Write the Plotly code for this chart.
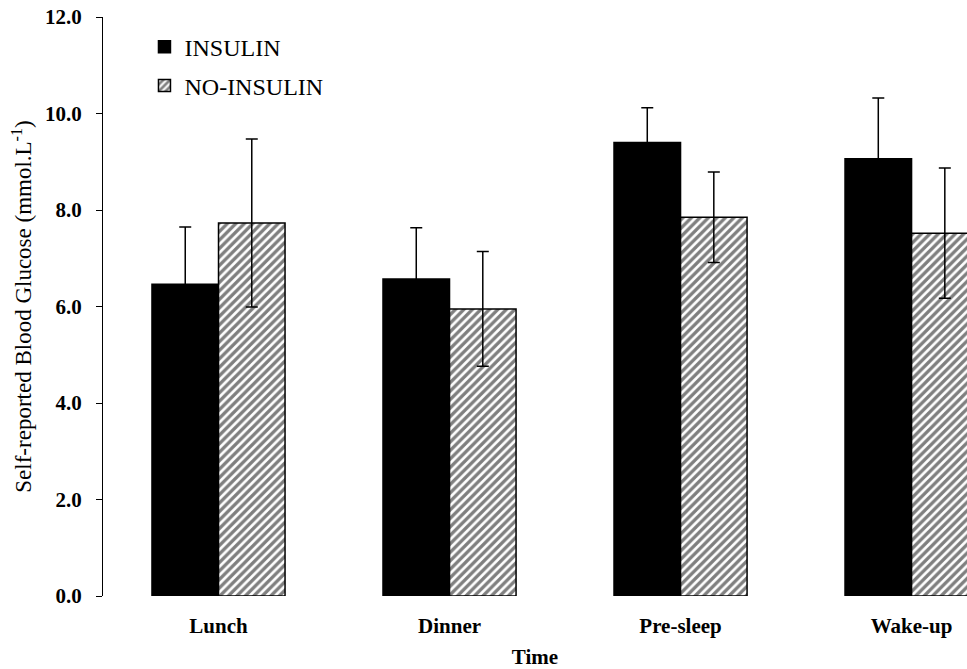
import plotly.graph_objects as go

# Self-reported blood glucose by time of day (mean ± SD)
times = ["Lunch", "Dinner", "Pre-sleep", "Wake-up"]
insulin_mean = [6.46, 6.57, 9.40, 9.06]
insulin_sd = [1.19, 1.06, 0.72, 1.26]
no_insulin_mean = [7.73, 5.95, 7.85, 7.52]
no_insulin_sd = [1.74, 1.19, 0.94, 1.35]
y_ticks = [0, 2, 4, 6, 8, 10, 12]

FONT = "Liberation Serif, Times New Roman, serif"

fig = go.Figure()

fig.add_trace(go.Bar(
    name="INSULIN",
    x=times,
    y=insulin_mean,
    marker=dict(color="black", line=dict(color="black", width=1.5)),
    error_y=dict(type="data", array=insulin_sd, visible=True,
                 color="black", thickness=1.5, width=6),
    legend="legend",
    showlegend=True,
))

fig.add_trace(go.Bar(
    name="NO-INSULIN",
    x=times,
    y=no_insulin_mean,
    marker=dict(
        color="white",
        line=dict(color="black", width=1.5),
        pattern=dict(shape="/", fgcolor="black", bgcolor="white",
                     size=6, solidity=0.55),
    ),
    error_y=dict(type="data", array=no_insulin_sd, visible=True,
                 color="black", thickness=1.5, width=6),
    legend="legend2",
    showlegend=True,
))

fig.update_layout(
    width=967,
    height=669,
    margin=dict(l=103, r=0, t=17, b=73),
    paper_bgcolor="white",
    plot_bgcolor="white",
    barmode="group",
    bargap=0.424,
    bargroupgap=0,
    showlegend=True,
    font=dict(family=FONT, color="black", size=21),
    legend=dict(
        visible=True,
        x=0.048, y=0.948, xanchor="left", yanchor="middle",
        bgcolor="rgba(0,0,0,0)", font=dict(family=FONT, size=24),
    ),
    legend2=dict(
        visible=True,
        x=0.048, y=0.881, xanchor="left", yanchor="middle",
        bgcolor="rgba(0,0,0,0)", font=dict(family=FONT, size=24),
    ),
    xaxis=dict(
        range=[-0.5, 3.24],
        showline=False,
        ticks="",
        showgrid=False,
        zeroline=False,
        tickfont=dict(family=FONT, size=21, weight="bold"),
        ticklabelstandoff=15,
        title=dict(text="<b>Time</b>", standoff=16,
                   font=dict(family=FONT, size=21)),
        automargin=False,
    ),
    yaxis=dict(
        range=[0, 12],
        tickvals=y_ticks,
        tickformat=".1f",
        showline=True,
        linecolor="black",
        linewidth=1,
        ticks="outside",
        ticklen=6,
        tickcolor="black",
        showgrid=False,
        zeroline=False,
        tickfont=dict(family=FONT, size=21, weight="bold"),
        ticklabelstandoff=10,
        title=dict(text="Self-reported Blood Glucose (mmol.L<sup>-1</sup>)",
                   standoff=6, font=dict(family=FONT, size=23)),
        automargin=False,
    ),
)

fig.write_html("out.html")
